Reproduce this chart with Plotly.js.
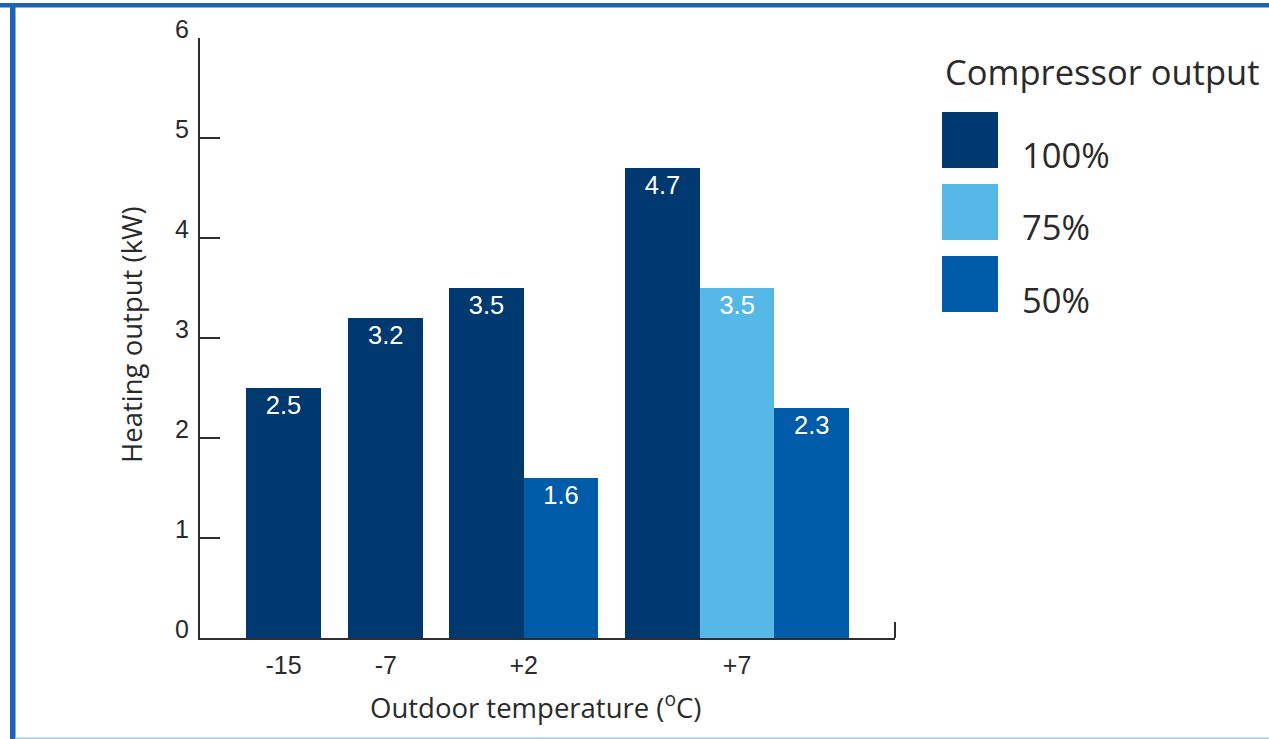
<!DOCTYPE html>
<html>
<head>
<meta charset="utf-8">
<script src="https://cdn.plot.ly/plotly-3.0.1.min.js"></script>
<style>
  html, body { margin: 0; padding: 0; background: #ffffff; }
  #chart { width: 1269px; height: 739px; }
</style>
</head>
<body>
<div id="chart"></div>
<script>
// Heating output by outdoor temperature, per compressor output level
const categories = ['-15', '-7', '+2', '+7'];
// position of each temperature group along the axis (in bar widths)
const categoryX = [1.12, 2.49, 4.34, 7.2];

const seriesNames = ['100%', '75%', '50%'];
const output100 = [2.5, 3.2, 3.5, 4.7];
const output75 = [null, null, null, 3.5];
const output50 = [null, null, 1.6, 2.3];
const seriesColors = ['#003870', '#56b8e6', '#005ba9'];

const yTicks = [0, 1, 2, 3, 4, 5, 6];

const allSeries = [output100, output75, output50];

// bars inside a group sit side by side, centred on the group position
function barsOf(seriesIndex) {
  const xs = [], ys = [];
  categories.forEach((c, i) => {
    const v = allSeries[seriesIndex][i];
    if (v == null) return;
    const present = allSeries.map((s, k) => (s[i] != null ? k : -1)).filter(k => k >= 0);
    const slot = present.indexOf(seriesIndex);
    xs.push(categoryX[i] + slot - (present.length - 1) / 2);
    ys.push(v);
  });
  return { xs, ys };
}

const traces = allSeries.map((vals, k) => {
  const b = barsOf(k);
  return {
    type: 'bar',
    name: seriesNames[k],
    x: b.xs,
    y: b.ys,
    width: 1,
    marker: { color: seriesColors[k], line: { width: 0 } },
    text: b.ys.map(v => v.toFixed(1)),
    textposition: 'inside',
    insidetextanchor: 'end',
    textangle: 0,
    insidetextfont: { family: 'Liberation Sans, Arial, sans-serif', size: 25.5, color: '#ffffff' },
    hoverinfo: 'x+y',
    showlegend: false
  };
});

// plot area geometry (pixels) and helpers to place extra items in paper space
const W = 1269, H = 739;
const M = { l: 200, r: 374, t: 38, b: 101 };
const plotW = W - M.l - M.r, plotH = H - M.t - M.b;
const px = x => (x - M.l) / plotW;
const py = y => (H - M.b - y) / plotH;

const axisColor = '#2e2e2e';
const textColor = '#2a2a2a';
const titleFont = { family: 'Open Sans, sans-serif', size: 27.5, color: textColor };

const shapes = [
  // frame around the figure
  { type: 'rect', xref: 'paper', yref: 'paper', x0: px(0), x1: px(W), y0: py(3), y1: py(7.5),
    fillcolor: '#1b64b4', line: { width: 0 }, layer: 'below' },
  { type: 'rect', xref: 'paper', yref: 'paper', x0: px(10), x1: px(15.5), y0: py(3), y1: py(H),
    fillcolor: '#1b64b4', line: { width: 0 }, layer: 'below' },
  { type: 'rect', xref: 'paper', yref: 'paper', x0: px(15.5), x1: px(W), y0: py(737.5), y1: py(739),
    fillcolor: '#a6c8ea', line: { width: 0 }, layer: 'below' },
  // end mark of the temperature axis
  { type: 'line', xref: 'paper', yref: 'paper', x0: 1, x1: 1, y0: 0, y1: py(622),
    line: { color: axisColor, width: 2 } }
];

const annotations = [
  { xref: 'paper', yref: 'paper', x: px(943), y: py(72), xanchor: 'left', yanchor: 'middle',
    text: 'Compressor output', showarrow: false,
    font: { family: 'Open Sans, sans-serif', size: 34.5, color: textColor } },
  { xref: 'paper', yref: 'paper', x: px(535), y: py(705), xanchor: 'center', yanchor: 'middle',
    text: 'Outdoor temperature (<sup>o</sup>C)', showarrow: false, font: titleFont },
  { xref: 'paper', yref: 'paper', x: px(131), y: py(335), xanchor: 'center', yanchor: 'middle',
    text: 'Heating output (kW)', textangle: -90, showarrow: false, font: titleFont }
];

// legend: colour squares with the output levels beside them
seriesNames.forEach((name, k) => {
  const top = 112 + k * 72;
  shapes.push({ type: 'rect', xref: 'paper', yref: 'paper', x0: px(942), x1: px(998),
    y0: py(top + 56), y1: py(top), fillcolor: seriesColors[k], line: { width: 0 } });
  annotations.push({ xref: 'paper', yref: 'paper', x: px(1020), y: py(top + 43),
    xanchor: 'left', yanchor: 'middle', text: name, showarrow: false,
    font: { family: 'Open Sans, sans-serif', size: 34.5, color: textColor } });
});

const layout = {
  width: W, height: H,
  margin: M,
  paper_bgcolor: '#ffffff',
  plot_bgcolor: '#ffffff',
  showlegend: false,
  bargap: 0,
  xaxis: {
    range: [0, 695 / 74.6],
    tickvals: categoryX,
    ticktext: categories,
    ticks: '',
    showgrid: false,
    zeroline: false,
    showline: true,
    linecolor: axisColor,
    linewidth: 2,
    ticklabelstandoff: 4,
    tickfont: { family: 'Liberation Sans, Arial, sans-serif', size: 25, color: textColor },
    fixedrange: true
  },
  yaxis: {
    range: [0, 6],
    tickvals: yTicks,
    ticks: 'inside',
    ticklen: 20,
    tickwidth: 2,
    tickcolor: axisColor,
    ticklabelshift: -9,
    ticklabelstandoff: 4,
    showgrid: false,
    zeroline: false,
    showline: true,
    linecolor: axisColor,
    linewidth: 2,
    tickfont: { family: 'Liberation Sans, Arial, sans-serif', size: 25, color: textColor },
    fixedrange: true
  },
  shapes: shapes,
  annotations: annotations
};

Plotly.newPlot('chart', traces, layout, { displayModeBar: false, staticPlot: true });
</script>
</body>
</html>
